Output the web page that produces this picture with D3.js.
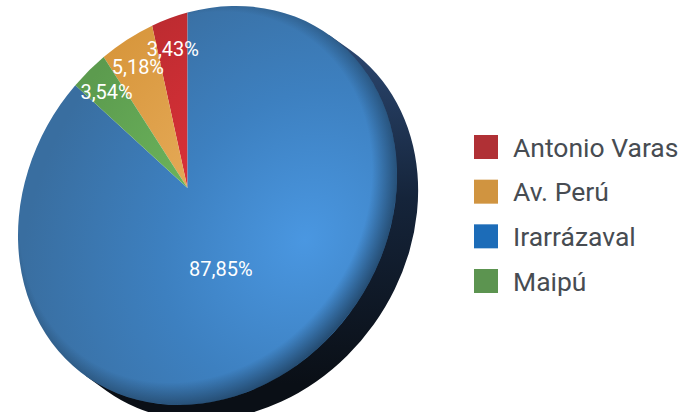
<!DOCTYPE html>
<html>
<head>
<meta charset="utf-8">
<script src="https://cdn.jsdelivr.net/npm/d3@7"></script>
<style>
    body { margin: 0; background: #fff; }
    svg { display: block; font-family: Roboto, "Noto Sans", sans-serif; }
</style>
</head>
<body>
<svg id="chart" width="689" height="412"></svg>
<script>
// share of each branch (%), as printed on the slices
const categories = ["Antonio Varas", "Av. Perú", "Irarrázaval", "Maipú"];
const shares = [3.43, 5.18, 87.85, 3.54];
const colors = ["#b03035", "#d09440", "#1c6cb8", "#5c9450"];
// order the slices are laid out, counter-clockwise from 12 o'clock
const sliceOrder = ["Antonio Varas", "Av. Perú", "Maipú", "Irarrázaval"];

let data = categories.map(function (name, i) {
    return {name: name, value: shares[i], color: colors[i]};
});
let total = d3.sum(data, d => d.value);

let svg = d3.select("#chart");

// the disc is drawn in perspective: its outline is a tilted ellipse and
// its centre (the apex of the slices) sits up-left of the ellipse centre
const ell = {cx: 207.5, cy: 205.5, rx: 209.5, ry: 178.4, rot: -54.4};
const apex = [187.5, 188];
const depth = 26;   // rim thickness in px

const rad = Math.PI / 180;
const cosR = Math.cos(ell.rot * rad), sinR = Math.sin(ell.rot * rad);

function toUnitDir(v) {
    return [(v[0] * cosR + v[1] * sinR) / ell.rx, (-v[0] * sinR + v[1] * cosR) / ell.ry];
}
function toUnit(p) {
    return toUnitDir([p[0] - ell.cx, p[1] - ell.cy]);
}
function fromUnit(q) {
    let x = q[0] * ell.rx, y = q[1] * ell.ry;
    return [ell.cx + x * cosR - y * sinR, ell.cy + x * sinR + y * cosR];
}

// projective map of the unit disc onto itself that moves the centre to the apex
let P = toUnit(apex);
let s = Math.hypot(P[0], P[1]);
let e = [P[0] / s, P[1] / s], n = [-e[1], e[0]];
function boost(q, k) {
    let a = q[0] * e[0] + q[1] * e[1];
    let b = q[0] * n[0] + q[1] * n[1];
    let den = 1 + k * a;
    let a2 = (a + k) / den, b2 = b * Math.sqrt(1 - k * k) / den;
    return [a2 * e[0] + b2 * n[0], a2 * e[1] + b2 * n[1]];
}

// find the disc angle that shows up straight above the apex
let dv = toUnitDir([0, -1]);
let dl = Math.hypot(dv[0], dv[1]);
dv = [dv[0] / dl, dv[1] / dl];
let pd = P[0] * dv[0] + P[1] * dv[1];
let t = -pd + Math.sqrt(pd * pd - (P[0] * P[0] + P[1] * P[1]) + 1);
let upPt = boost([P[0] + t * dv[0], P[1] + t * dv[1]], -s);
let beta0 = Math.atan2(upPt[1], upPt[0]);

function onDisc(angle, r) {
    let b = beta0 - angle;
    return boost([r * Math.cos(b), r * Math.sin(b)], s);
}

let pie = d3.pie()
    .value(d => d.value)
    .sort((a, b) => sliceOrder.indexOf(a.name) - sliceOrder.indexOf(b.name));
let arcs = pie(data);

function slicePath(d) {
    let u0 = onDisc(d.startAngle, 1), u1 = onDisc(d.endAngle, 1);
    let p = d3.path();
    p.moveTo(P[0], P[1]);
    p.lineTo(u0[0], u0[1]);
    p.arc(0, 0, 1, Math.atan2(u0[1], u0[0]), Math.atan2(u1[1], u1[0]), true);
    p.closePath();
    return p.toString();
}

// gradients, all in the unit-disc space
let defs = svg.append("defs");
let hl = toUnit([305, 240]);

arcs.forEach(function (d, i) {
    let base = d3.hsl(d.data.color);
    // strong blues come out muted on the face, warmer colours get livelier
    let muted = base.s > 0.65;
    let g = defs.append("radialGradient")
        .attr("id", "fill" + i)
        .attr("gradientUnits", "userSpaceOnUse")
        .attr("cx", hl[0]).attr("cy", hl[1]).attr("r", 1.5);
    let c0 = d3.hsl(base.h, Math.min(base.s * (muted ? 0.97 : 1.3), 0.9), base.l + 0.17);
    let c1 = d3.hsl(base.h, Math.min(base.s * (muted ? 0.7 : 1.2), 0.85), base.l + 0.08);
    let c2 = d3.hsl(base.h, Math.min(base.s * (muted ? 0.64 : 1.1), 0.8), base.l + 0.01);
    g.append("stop").attr("offset", 0).attr("stop-color", c0.formatHex());
    g.append("stop").attr("offset", 0.5).attr("stop-color", c1.formatHex());
    g.append("stop").attr("offset", 1).attr("stop-color", c2.formatHex());
});

let rim = defs.append("radialGradient")
    .attr("id", "rimShade")
    .attr("gradientUnits", "userSpaceOnUse")
    .attr("cx", 0).attr("cy", -0.08).attr("r", 1.08);
rim.append("stop").attr("offset", 0.86).attr("stop-color", "#000").attr("stop-opacity", 0);
rim.append("stop").attr("offset", 1).attr("stop-color", "#000").attr("stop-opacity", 0.45);

let side = defs.append("linearGradient")
    .attr("id", "sideFill")
    .attr("gradientUnits", "userSpaceOnUse")
    .attr("x1", 0.9).attr("y1", 0).attr("x2", -0.5).attr("y2", 0.9);
side.append("stop").attr("offset", 0).attr("stop-color", "#2a456d");
side.append("stop").attr("offset", 0.45).attr("stop-color", "#15243a");
side.append("stop").attr("offset", 1).attr("stop-color", "#0a0f16");

let disc = svg.append("g")
    .attr("transform", "translate(" + ell.cx + "," + ell.cy + ") rotate(" + ell.rot + ") scale(" + ell.rx + "," + ell.ry + ")");

// rim: back face pushed along the short axis, plus the band joining it
let dd = depth / ell.ry;
let sp = d3.path();
sp.moveTo(1, 0);
sp.lineTo(1, dd);
sp.arc(0, dd, 1, 0, Math.PI, false);
sp.lineTo(-1, 0);
sp.closePath();
disc.append("path")
    .attr("d", sp.toString())
    .attr("fill", "url(#sideFill)");

disc.selectAll("path.slice")
    .data(arcs)
    .enter().append("path")
    .classed("slice", true)
    .attr("d", slicePath)
    .attr("fill", (d, i) => "url(#fill" + i + ")");

disc.append("circle")
    .attr("r", 1)
    .attr("fill", "url(#rimShade)");

// value labels
let fmt = d3.formatLocale({decimal: ",", thousands: ".", grouping: [3], currency: ["", ""]}).format(".2f");

svg.append("g").selectAll("text")
    .data(arcs)
    .enter().append("text")
    .attr("transform", function (d) {
        let k = d.data.value / total > 0.5 ? 0.45 : 0.8;
        let p = fromUnit(onDisc((d.startAngle + d.endAngle) / 2, k));
        return "translate(" + p[0] + "," + p[1] + ")";
    })
    .attr("text-anchor", "middle")
    .attr("dy", "0.35em")
    .attr("fill", "#fff")
    .style("font-size", "20px")
    .text(d => fmt(d.data.value / total * 100) + "%");

// legend
let legendY = d3.scalePoint()
    .domain(categories)
    .range([147, 281]);

let legend = svg.append("g").selectAll("g")
    .data(data)
    .enter().append("g")
    .attr("transform", d => "translate(474," + legendY(d.name) + ")");

legend.append("rect")
    .attr("y", -12)
    .attr("width", 24)
    .attr("height", 24)
    .attr("fill", d => d.color);

legend.append("text")
    .attr("x", 39)
    .attr("dy", "0.36em")
    .attr("fill", "#474c52")
    .style("font-size", "26.5px")
    .text(d => d.name);
</script>
</body>
</html>
